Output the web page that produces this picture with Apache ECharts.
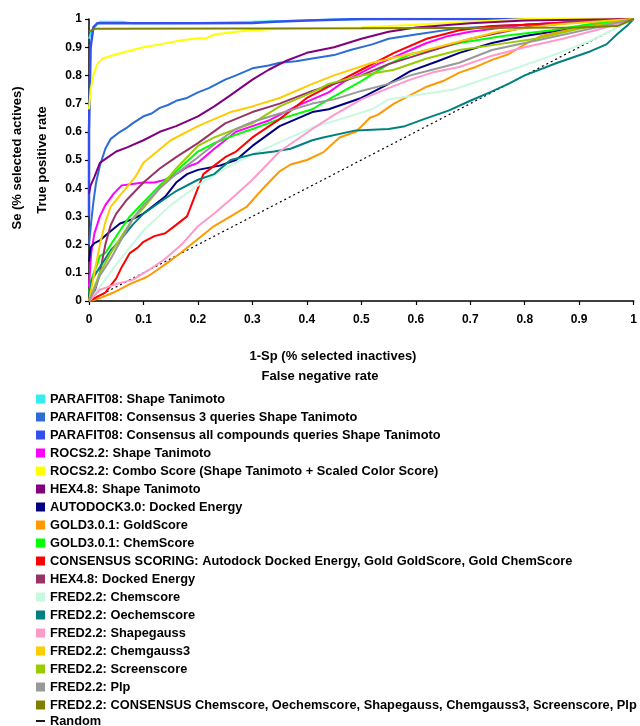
<!DOCTYPE html>
<html>
<head>
<meta charset="utf-8">
<script src="https://cdn.jsdelivr.net/npm/echarts@6/dist/echarts.min.js"></script>
<style>
html,body{margin:0;padding:0;background:#fff;}
#chart{width:640px;height:726px;}
</style>
</head>
<body>
<div id="chart"></div>
<script>
// ---- Data (x = 1-Sp, y = Se) ----
var seriesNames = [
  "PARAFIT08: Shape Tanimoto",
  "PARAFIT08: Consensus 3 queries Shape Tanimoto",
  "PARAFIT08: Consensus all compounds queries Shape Tanimoto",
  "ROCS2.2: Shape Tanimoto",
  "ROCS2.2: Combo Score (Shape Tanimoto + Scaled Color Score)",
  "HEX4.8: Shape Tanimoto",
  "AUTODOCK3.0: Docked Energy",
  "GOLD3.0.1: GoldScore",
  "GOLD3.0.1: ChemScore",
  "CONSENSUS SCORING: Autodock Docked Energy, Gold GoldScore, Gold ChemScore",
  "HEX4.8: Docked Energy",
  "FRED2.2: Chemscore",
  "FRED2.2: Oechemscore",
  "FRED2.2: Shapegauss",
  "FRED2.2: Chemgauss3",
  "FRED2.2: Screenscore",
  "FRED2.2: Plp",
  "FRED2.2: CONSENSUS Chemscore, Oechemscore, Shapegauss, Chemgauss3, Screenscore, Plp",
  "Random"
];
var seriesColors = ["#33eeee","#2b6cd6","#3350ee","#ff00ff","#ffff00","#800080","#000080","#ff9900","#00ff00","#ff0000","#993366","#c8f8e0","#008080","#ff99cc","#ffcc00","#99cc00","#999999","#808000","#000000"];

var xTicks = [0,0.1,0.2,0.3,0.4,0.5,0.6,0.7,0.8,0.9,1];
var yTicks = [0,0.1,0.2,0.3,0.4,0.5,0.6,0.7,0.8,0.9,1];

var parafitShape = [[0,0.93],[0.005,0.96],[0.012,0.975],[0.02,0.99],[0.06,0.99],[0.08,0.985],[0.2,0.986],[0.4,0.995],[0.45,0.998],[0.55,1],[1,1]];
var parafit3 = [[0,0.2],[0.004,0.28],[0.008,0.35],[0.013,0.42],[0.02,0.48],[0.03,0.54],[0.04,0.575],[0.057,0.6],[0.07,0.615],[0.08,0.63],[0.1,0.655],[0.115,0.665],[0.13,0.685],[0.145,0.695],[0.16,0.71],[0.18,0.72],[0.2,0.74],[0.22,0.755],[0.25,0.785],[0.27,0.8],[0.3,0.825],[0.33,0.835],[0.35,0.845],[0.38,0.85],[0.41,0.86],[0.45,0.872],[0.48,0.89],[0.52,0.91],[0.55,0.93],[0.6,0.945],[0.67,0.965],[0.75,0.975],[0.8,0.98],[0.9,0.99],[1,1]];
var parafitAll = [[0,0.3],[0,0.6],[0.003,0.9],[0.008,0.97],[0.015,0.985],[0.1,0.985],[0.2,0.985],[0.3,0.986],[0.34,0.99],[0.4,0.995],[0.5,1],[1,1]];
var rocsShape = [[0,0.05],[0.004,0.17],[0.01,0.24],[0.02,0.3],[0.03,0.34],[0.045,0.38],[0.06,0.41],[0.08,0.415],[0.1,0.42],[0.12,0.42],[0.14,0.43],[0.16,0.45],[0.18,0.475],[0.2,0.49],[0.23,0.54],[0.25,0.57],[0.27,0.6],[0.3,0.62],[0.33,0.64],[0.35,0.66],[0.38,0.69],[0.41,0.715],[0.44,0.74],[0.47,0.78],[0.5,0.81],[0.53,0.84],[0.56,0.865],[0.59,0.89],[0.62,0.915],[0.66,0.94],[0.7,0.955],[0.8,0.98],[0.9,0.99],[1,1]];
var rocsCombo = [[0,0.68],[0.003,0.75],[0.008,0.8],[0.015,0.84],[0.025,0.86],[0.05,0.875],[0.08,0.89],[0.1,0.9],[0.13,0.91],[0.17,0.925],[0.2,0.932],[0.215,0.932],[0.23,0.945],[0.27,0.955],[0.3,0.96],[0.35,0.965],[0.5,0.97],[0.6,0.98],[0.7,0.99],[0.8,1],[1,1]];
var hexShape = [[0,0.38],[0.003,0.41],[0.01,0.44],[0.02,0.49],[0.035,0.51],[0.05,0.53],[0.07,0.545],[0.1,0.57],[0.13,0.6],[0.16,0.62],[0.2,0.655],[0.23,0.69],[0.26,0.73],[0.3,0.785],[0.33,0.82],[0.36,0.85],[0.4,0.88],[0.45,0.9],[0.5,0.93],[0.55,0.955],[0.6,0.97],[0.7,0.985],[0.8,0.995],[1,1]];
var autodock = [[0,0.14],[0.003,0.19],[0.01,0.205],[0.02,0.215],[0.035,0.24],[0.057,0.275],[0.08,0.29],[0.1,0.31],[0.12,0.34],[0.14,0.37],[0.16,0.42],[0.18,0.45],[0.2,0.465],[0.24,0.48],[0.27,0.5],[0.3,0.55],[0.35,0.62],[0.41,0.67],[0.44,0.68],[0.5,0.72],[0.55,0.77],[0.59,0.815],[0.64,0.85],[0.68,0.88],[0.74,0.915],[0.8,0.94],[0.9,0.97],[1,1]];
var goldGold = [[0,0],[0.02,0.01],[0.045,0.03],[0.075,0.06],[0.107,0.086],[0.14,0.13],[0.168,0.17],[0.2,0.22],[0.229,0.265],[0.26,0.3],[0.29,0.335],[0.32,0.4],[0.35,0.46],[0.37,0.484],[0.4,0.5],[0.43,0.527],[0.46,0.58],[0.49,0.6],[0.516,0.65],[0.53,0.66],[0.56,0.7],[0.59,0.73],[0.62,0.76],[0.65,0.78],[0.68,0.81],[0.71,0.83],[0.74,0.855],[0.77,0.875],[0.8,0.91],[0.83,0.94],[0.9,0.97],[1,1]];
var goldChem = [[0,0.03],[0.005,0.08],[0.015,0.13],[0.02,0.16],[0.03,0.17],[0.04,0.2],[0.057,0.25],[0.075,0.3],[0.1,0.35],[0.13,0.41],[0.16,0.46],[0.2,0.53],[0.23,0.56],[0.27,0.59],[0.3,0.61],[0.35,0.645],[0.41,0.68],[0.44,0.715],[0.5,0.78],[0.55,0.84],[0.59,0.875],[0.68,0.915],[0.76,0.94],[0.85,0.96],[0.93,0.985],[1,1]];
var consensus = [[0,0],[0.03,0.03],[0.05,0.08],[0.06,0.12],[0.075,0.17],[0.09,0.19],[0.1,0.21],[0.12,0.23],[0.14,0.24],[0.16,0.27],[0.18,0.3],[0.2,0.4],[0.21,0.45],[0.23,0.48],[0.25,0.51],[0.27,0.53],[0.3,0.58],[0.35,0.645],[0.4,0.72],[0.44,0.76],[0.5,0.82],[0.56,0.88],[0.62,0.93],[0.68,0.96],[0.74,0.975],[0.8,0.98],[0.9,0.99],[1,1]];
var hexDocked = [[0,0],[0.01,0.03],[0.02,0.1],[0.03,0.2],[0.04,0.27],[0.05,0.31],[0.07,0.36],[0.1,0.42],[0.13,0.47],[0.16,0.51],[0.2,0.56],[0.25,0.63],[0.3,0.67],[0.35,0.7],[0.41,0.745],[0.45,0.77],[0.5,0.8],[0.55,0.84],[0.6,0.87],[0.7,0.93],[0.8,0.97],[0.9,0.99],[1,1]];
var fredChemscore = [[0,0],[0.02,0.05],[0.05,0.13],[0.1,0.25],[0.15,0.34],[0.2,0.41],[0.25,0.47],[0.3,0.52],[0.37,0.58],[0.41,0.615],[0.46,0.644],[0.52,0.68],[0.55,0.715],[0.6,0.73],[0.67,0.75],[0.73,0.79],[0.79,0.83],[0.85,0.87],[0.915,0.918],[0.96,0.96],[1,1]];
var fredOechem = [[0,0.02],[0.005,0.075],[0.02,0.12],[0.04,0.18],[0.057,0.215],[0.08,0.27],[0.1,0.31],[0.13,0.35],[0.16,0.39],[0.2,0.43],[0.23,0.45],[0.26,0.5],[0.3,0.52],[0.34,0.53],[0.37,0.54],[0.41,0.57],[0.43,0.58],[0.49,0.605],[0.55,0.61],[0.58,0.62],[0.615,0.645],[0.66,0.675],[0.7,0.71],[0.736,0.74],[0.77,0.77],[0.8,0.8],[0.86,0.845],[0.92,0.885],[0.95,0.91],[0.97,0.947],[0.99,0.98],[1,1]];
var fredShapegauss = [[0,0],[0.02,0.04],[0.05,0.06],[0.08,0.075],[0.11,0.11],[0.14,0.15],[0.17,0.2],[0.2,0.265],[0.23,0.31],[0.26,0.36],[0.3,0.43],[0.35,0.53],[0.38,0.57],[0.41,0.61],[0.45,0.66],[0.5,0.715],[0.55,0.755],[0.59,0.785],[0.63,0.81],[0.68,0.83],[0.74,0.87],[0.8,0.9],[0.87,0.93],[0.93,0.96],[1,1]];
var fredChemgauss3 = [[0,0],[0.005,0.05],[0.01,0.1],[0.02,0.2],[0.03,0.28],[0.04,0.335],[0.055,0.37],[0.07,0.405],[0.085,0.44],[0.1,0.49],[0.15,0.57],[0.2,0.62],[0.26,0.67],[0.3,0.69],[0.35,0.72],[0.41,0.77],[0.45,0.8],[0.52,0.845],[0.6,0.88],[0.68,0.92],[0.75,0.955],[0.85,0.98],[1,1]];
var fredScreen = [[0,0],[0.01,0.05],[0.02,0.1],[0.04,0.17],[0.06,0.23],[0.08,0.29],[0.1,0.33],[0.13,0.4],[0.16,0.47],[0.2,0.55],[0.23,0.58],[0.27,0.61],[0.3,0.63],[0.35,0.69],[0.41,0.74],[0.44,0.77],[0.5,0.8],[0.56,0.82],[0.62,0.86],[0.68,0.89],[0.75,0.91],[0.82,0.93],[0.9,0.965],[1,1]];
var fredPlp = [[0,0],[0.01,0.04],[0.02,0.09],[0.04,0.15],[0.06,0.22],[0.08,0.29],[0.1,0.34],[0.13,0.4],[0.16,0.45],[0.2,0.51],[0.24,0.57],[0.27,0.61],[0.3,0.635],[0.35,0.665],[0.41,0.7],[0.45,0.715],[0.5,0.745],[0.55,0.77],[0.59,0.8],[0.63,0.82],[0.68,0.845],[0.74,0.89],[0.8,0.915],[0.86,0.94],[0.92,0.965],[1,1]];
var fredConsensus = [[0,0.955],[0.01,0.965],[0.5,0.967],[0.9,0.97],[0.97,0.975],[1,1]];
var randomLine = [[0,0],[1,1]];

var seriesData = [parafitShape,parafit3,parafitAll,rocsShape,rocsCombo,hexShape,autodock,goldGold,goldChem,consensus,hexDocked,fredChemscore,fredOechem,fredShapegauss,fredChemgauss3,fredScreen,fredPlp,fredConsensus,randomLine];

// ---- Chart ----
var FONT = 'Liberation Sans, Arial, sans-serif';
var chart = echarts.init(document.getElementById('chart'), null, {renderer:'canvas'});
var series = seriesData.map(function(d,i){
  var isRandom = seriesNames[i] === 'Random';
  return {
    name: seriesNames[i],
    type: 'line',
    data: d,
    symbol: 'none',
    showSymbol: false,
    animation: false,
    z: isRandom ? 1 : 2 + i,
    lineStyle: {
      color: seriesColors[i],
      width: isRandom ? 1.2 : (i===2 ? 2.5 : 2),
      type: isRandom ? [2,3] : 'solid'
    },
    itemStyle: {color: seriesColors[i]}
  };
});

var legendText = {color: '#000', fontWeight: 'bold', fontSize: 12.8, fontFamily: FONT, lineHeight: 14};
var mainLegendNames = seriesNames.filter(function(n){ return n !== 'Random'; });

chart.setOption({
  backgroundColor: '#ffffff',
  animation: false,
  grid: {left: 89, right: 6, top: 19, bottom: 425, containLabel: false},
  xAxis: {
    type: 'value', min: xTicks[0], max: xTicks[xTicks.length-1], interval: 0.1,
    axisLine: {show: true, lineStyle: {color: '#000', width: 1.5}},
    axisTick: {show: true, inside: false, length: 4, lineStyle: {color: '#000', width: 1.2}},
    splitLine: {show: false},
    axisLabel: {color: '#000', fontWeight: 'bold', fontSize: 12, fontFamily: FONT, margin: 13}
  },
  yAxis: {
    type: 'value', min: yTicks[0], max: yTicks[yTicks.length-1], interval: 0.1,
    axisLine: {show: true, lineStyle: {color: '#000', width: 1.5}},
    axisTick: {show: true, inside: false, length: 4, lineStyle: {color: '#000', width: 1.2}},
    splitLine: {show: false},
    axisLabel: {color: '#000', fontWeight: 'bold', fontSize: 12, fontFamily: FONT, margin: 7}
  },
  legend: [
    {
      orient: 'vertical', left: 31, top: 387,
      icon: 'rect', itemWidth: 9, itemHeight: 9, itemGap: 4,
      selectedMode: false,
      data: mainLegendNames,
      textStyle: legendText
    },
    {
      orient: 'vertical', left: 31, top: 709,
      itemWidth: 9, itemHeight: 9,
      selectedMode: false,
      data: [{name: 'Random', icon: 'path://M0,8 L10,8 L10,10 L0,10 Z'}],
      textStyle: legendText
    }
  ],
  graphic: [
    {type:'text', style:{text:'1-Sp (% selected inactives)', x: 333, y: 356, textAlign:'center', textVerticalAlign:'middle', font:'bold 13px ' + FONT, fill:'#000'}},
    {type:'text', style:{text:'False negative rate', x: 320, y: 376, textAlign:'center', textVerticalAlign:'middle', font:'bold 13px ' + FONT, fill:'#000'}},
    {type:'text', x: 17, y: 158, rotation: Math.PI/2, style:{text:'Se (% selected actives)', x:0, y:0, textAlign:'center', textVerticalAlign:'middle', font:'bold 13px ' + FONT, fill:'#000'}},
    {type:'text', x: 42, y: 160, rotation: Math.PI/2, style:{text:'True positive rate', x:0, y:0, textAlign:'center', textVerticalAlign:'middle', font:'bold 13px ' + FONT, fill:'#000'}}
  ],
  series: series
});
</script>
</body>
</html>
